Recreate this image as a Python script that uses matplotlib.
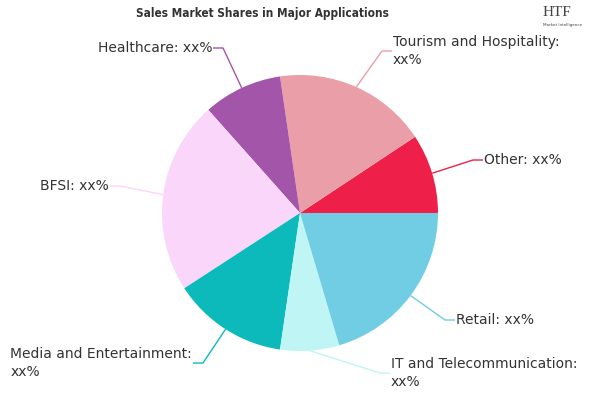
import numpy as np
import matplotlib
matplotlib.use("Agg")
import matplotlib.pyplot as plt
from matplotlib import font_manager as fm

# ---- data (degrees -> shares) ----
labels = ["Other", "Tourism and Hospitality", "Healthcare", "BFSI",
          "Media and Entertainment", "IT and Telecommunication", "Retail"]
shares = [9.3, 18.0, 9.25, 22.6, 13.5, 6.9, 20.4]
colors = ["#ee2049", "#ea9ea8", "#a355a9", "#fbd6fb",
          "#0cb9bb", "#c0f5f5", "#70cde4"]
label_texts = ["Other: xx%", "Tourism and Hospitality:\nxx%", "Healthcare: xx%",
               "BFSI: xx%", "Media and Entertainment:\nxx%",
               "IT and Telecommunication:\nxx%", "Retail: xx%"]

W, H = 600, 400
CX, CY, R = 300, 213, 138   # pie centre / radius in pixels (y down)

# leader elbow (pixel coords, y down) and side of label
elbows = [(473, 160, "r"), (382, 51, "r"), (223, 48, "l"), (120, 186, "l"),
          (203, 363, "l"), (380, 373, "r"), (445, 320, "r")]

fig = plt.figure(figsize=(6, 4), dpi=100)
ax = fig.add_axes([0, 0, 1, 1])

wedges, _ = ax.pie(shares, colors=colors, startangle=0, counterclock=True,
                   center=(CX, H - CY), radius=R,
                   wedgeprops=dict(linewidth=0))
ax.set_xlim(0, W)
ax.set_ylim(0, H)
ax.set_aspect("equal")
ax.axis("off")

for w, txt, col, (ex, ey, side) in zip(wedges, label_texts, colors, elbows):
    mid = np.deg2rad((w.theta1 + w.theta2) / 2)
    sx = CX + R * np.cos(mid)
    sy = (H - CY) + R * np.sin(mid)
    ey = H - ey
    dx = 10 if side == "r" else -10
    ax.plot([sx, ex, ex + dx], [sy, ey, ey], color=col, lw=1,
            solid_capstyle="butt")
    ax.text(ex + dx + (1 if side == "r" else -1), ey, txt,
            ha="left" if side == "r" else "right", va="center",
            multialignment="left", fontsize=10, color="#333333",
            linespacing=1.3)

# condensed heavy title font, if one is installed
avail = {(f.name, f.stretch) for f in fm.fontManager.ttflist}
title_kw = dict(family="DejaVu Sans")
if any(n == "Liberation Sans Narrow" for n, _ in avail):
    title_kw = dict(family="Liberation Sans Narrow")
elif ("DejaVu Sans", "condensed") in avail:
    title_kw = dict(family="DejaVu Sans", fontstretch="condensed")

title = fig.text(262 / W, 1 - 13 / H, "Sales Market Shares in Major Applications",
                 ha="center", va="center", fontweight="bold", color="#333333",
                 fontsize=10, **title_kw)
# fit the title to the reference width (~250 px)
fig.canvas.draw()
tw = title.get_window_extent().width
title.set_fontsize(10 * 250 / tw)

# small logo text
fig.text(557 / W, 1 - 12 / H, "HTF", ha="center", va="center",
         fontsize=11, color="#444444", family="Liberation Serif")
fig.text(563 / W, 1 - 25 / H, "Market Intelligence", ha="center",
         va="center", fontsize=3, color="#444444")

fig.savefig("out.png", dpi=100)
